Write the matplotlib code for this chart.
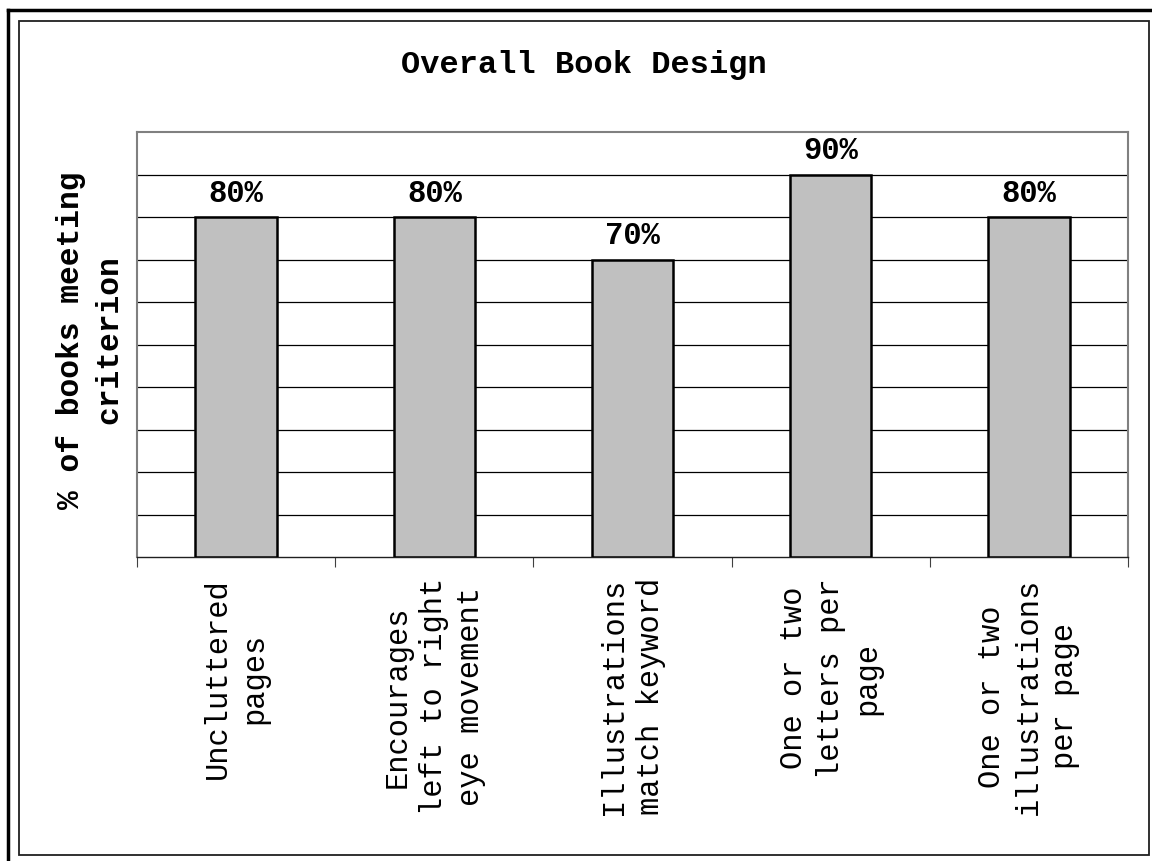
import matplotlib.pyplot as plt
from matplotlib.lines import Line2D
from matplotlib.patches import Rectangle

categories = ["Uncluttered\npages",
              "Encourages\nleft to right\neye movement",
              "Illustrations\nmatch keyword",
              "One or two\nletters per\npage",
              "One or two\nillustrations\nper page"]
values = [0.80, 0.80, 0.70, 0.90, 0.80]
labels = ["80%", "80%", "70%", "90%", "80%"]

W, H = 1152, 861
fig = plt.figure(figsize=(W / 100, H / 100), dpi=100)
font = "Liberation Mono"

# outer page frame (top and left heavy lines)
fig.add_artist(Line2D([8 / W, 1], [1 - 10 / H, 1 - 10 / H], color="black", lw=2.5,
                      transform=fig.transFigure))
fig.add_artist(Line2D([8 / W, 8 / W], [0, 1 - 10 / H], color="black", lw=2.5,
                      transform=fig.transFigure))
# chart area frame
fig.add_artist(Rectangle((19 / W, 1 - 855 / H), (1149 - 19) / W, (855 - 21) / H,
                         fill=False, edgecolor="#202020", lw=1.3,
                         transform=fig.transFigure))

ax = fig.add_axes([137 / W, 1 - 557 / H, (1128 - 137) / W, (557 - 132) / H])
x = range(len(values))
ax.bar(x, values, width=0.41, color="#c0c0c0", edgecolor="black", lw=1.8, zorder=3)

for i, (v, t) in enumerate(zip(values, labels)):
    ax.annotate(t, (i, v), xytext=(0, 6), textcoords="offset points",
                ha="center", va="bottom", fontfamily=font, fontweight="bold",
                fontsize=22)

ax.set_xlim(-0.5, len(values) - 0.5)
ax.set_ylim(0, 1)
ax.set_yticks([i / 10 for i in range(1, 10)])
ax.yaxis.grid(True, color="black", lw=0.9)
ax.tick_params(axis="y", left=False, labelleft=False)

ax.set_xticks([i - 0.5 for i in range(len(values) + 1)], minor=False)
ax.set_xticklabels([])
ax.tick_params(axis="x", which="major", direction="out", length=7, color="#404040")
ax.set_xticks(list(x), minor=True)
ax.set_xticklabels(categories, minor=True, rotation=90, fontfamily=font,
                   fontsize=22, ha="center", va="top", multialignment="center",
                   linespacing=1.28)
ax.tick_params(axis="x", which="minor", length=0, pad=15)

for s in ["left", "top", "right"]:
    ax.spines[s].set_color("#808080")
    ax.spines[s].set_linewidth(1.5)
ax.spines["bottom"].set_color("#202020")
ax.spines["bottom"].set_linewidth(1.0)

fig.text(583.5 / W, 1 - 65 / H, "Overall Book Design", ha="center", va="center",
         fontfamily=font, fontweight="bold", fontsize=23)
fig.text(90 / W, 1 - 340 / H, "% of books meeting\ncriterion", ha="center",
         va="center", rotation=90, fontfamily=font, fontweight="bold",
         fontsize=22.5, multialignment="center", linespacing=1.35)

fig.savefig("out.png", dpi=100)
